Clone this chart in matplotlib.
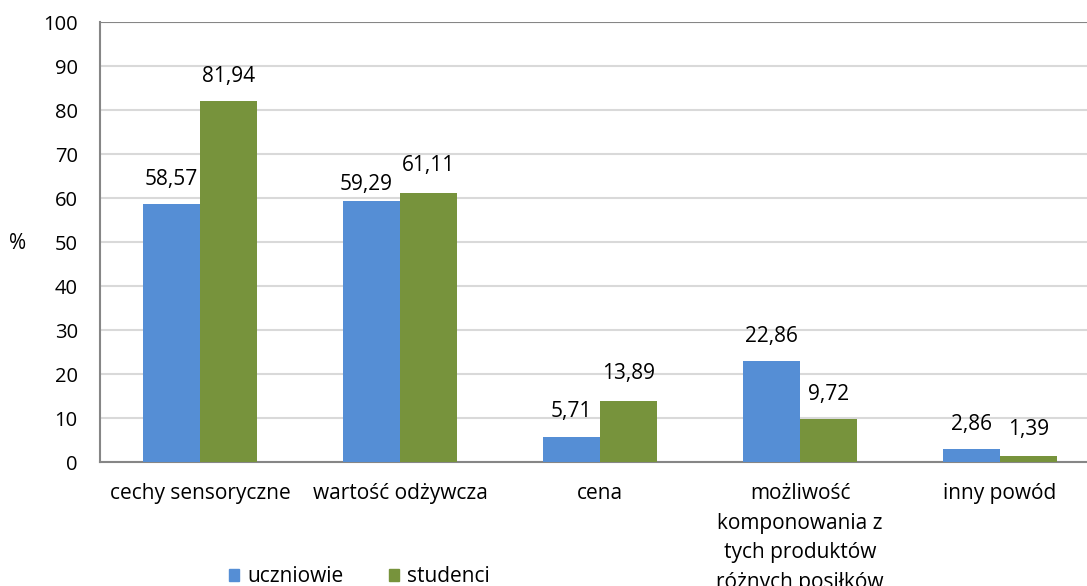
import numpy as np
import matplotlib
matplotlib.use("Agg")
import matplotlib.pyplot as plt
from matplotlib.patches import Patch

plt.rcParams['font.family'] = ['Open Sans', 'DejaVu Sans']

categories = ["cechy sensoryczne", "wartość odżywcza", "cena",
              "możliwość\nkomponowania z\ntych produktów\nróżnych posiłków",
              "inny powód"]
uczniowie = [58.57, 59.29, 5.71, 22.86, 2.86]
studenci = [81.94, 61.11, 13.89, 9.72, 1.39]
series_names = ["uczniowie", "studenci"]

blue = "#558ED5"
green = "#77933C"
fs = 15

fig = plt.figure(figsize=(10.87, 5.86), dpi=100)
ax = fig.add_axes([100 / 1087, 124 / 586, 1000 / 1087, 440 / 586])

x = np.arange(len(categories))
w = 0.285
ax.bar(x - w / 2, uczniowie, w, color=blue, edgecolor="none", zorder=3)
ax.bar(x + w / 2, studenci, w, color=green, edgecolor="none", zorder=3)


def fmt(v):
    return f"{v:.2f}".replace(".", ",")


# label offsets in points (Excel nudges the second pair apart)
off1 = [18, 12, 18, 18, 18]
off2 = [18, 20, 20, 18, 19]
for i in range(len(categories)):
    ax.annotate(fmt(uczniowie[i]), (x[i] - w / 2, uczniowie[i]),
                xytext=(-4 if i == 1 else 0, off1[i]), textcoords="offset points",
                ha="center", va="center", fontsize=fs)
    ax.annotate(fmt(studenci[i]), (x[i] + w / 2, studenci[i]),
                xytext=(0, off2[i]), textcoords="offset points",
                ha="center", va="center", fontsize=fs)

ax.set_xlim(-0.5, 4.5)
ax.set_ylim(0, 100)
ax.set_yticks(range(0, 101, 10))
ax.yaxis.grid(True, color="#D9D9D9", linewidth=1.5, zorder=0)
ax.set_axisbelow(True)
ax.set_xticks(x)
ax.set_xticklabels(categories, fontsize=fs, linespacing=1.55, va="top")
ax.tick_params(axis="both", length=0)
ax.tick_params(axis="y", pad=16, labelsize=14.5)
ax.tick_params(axis="x", pad=15, labelsize=fs)

for s in ["top", "right"]:
    ax.spines[s].set_visible(False)
ax.spines["left"].set_color("#868686")
ax.spines["bottom"].set_color("#868686")
ax.spines["left"].set_linewidth(1.5)
ax.spines["bottom"].set_linewidth(1.5)
ax.axhline(100, color="#868686", linewidth=1.5, zorder=1)

fig.text(18 / 1087, 1 - 243 / 586, "%", fontsize=fs, ha="center", va="center")

handles = [Patch(color=blue), Patch(color=green)]
fig.legend(handles, series_names, loc="center left",
           bbox_to_anchor=(210 / 1087, 1 - 577 / 586), ncol=2, frameon=False,
           fontsize=fs, handlelength=0.5, handleheight=0.5, handletextpad=0.4,
           columnspacing=2.15)

fig.savefig("out.png", dpi=100)
